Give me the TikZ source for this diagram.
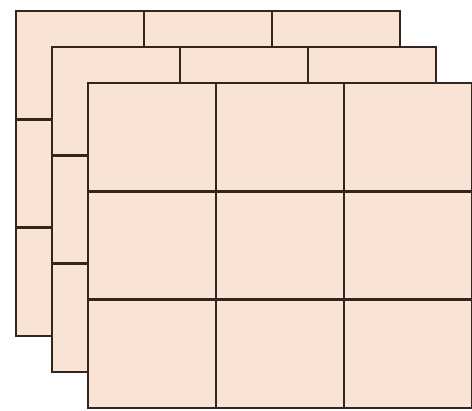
\documentclass[tikz,border=0pt]{standalone}
\definecolor{facepeach}{RGB}{249,227,212}
\definecolor{edgebrown}{RGB}{52,38,30}
\tikzset{
  layerface/.style={fill=facepeach,draw=edgebrown,line width=2.6pt},
  layergrid/.style={draw=edgebrown,line width=2.6pt}
}
\begin{document}
\begin{tikzpicture}[x=1pt,y=-1pt]
  \useasboundingbox (0,0) rectangle (472,411);
  % three stacked 3x3 layers, back to front
  \foreach \k in {0,1,2}{
    \begin{scope}[shift={(16+36*\k,11+36*\k)}]
      \draw[layerface] (0,0) rectangle (384,325);
      \foreach \i in {1,2}{
        \draw[layergrid] (128*\i,0)--(128*\i,325);
        \draw[layergrid] (0,108.33*\i)--(384,108.33*\i);
      }
    \end{scope}
  }
\end{tikzpicture}
\end{document}
